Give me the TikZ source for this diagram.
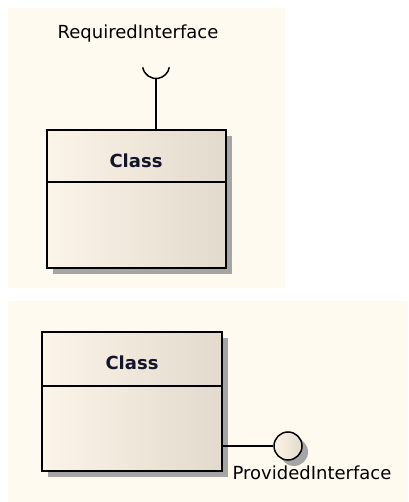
\documentclass[tikz,border=0pt]{standalone}
\usepackage{fontspec}
\setmainfont{DejaVu Sans}
\usetikzlibrary{shadows,positioning}
\definecolor{panelcol}{RGB}{255,250,240}
\definecolor{classleft}{RGB}{251,244,232}
\definecolor{classright}{RGB}{226,218,204}
\definecolor{shadowcol}{RGB}{165,165,165}
\definecolor{namecol}{RGB}{20,20,45}
\tikzset{
  panel/.style={fill=panelcol, draw=none},
  classbox/.style={draw=black, line width=1.5pt, left color=classleft, right color=classright,
    drop shadow={shadow xshift=6pt, shadow yshift=-6pt, fill=shadowcol, opacity=1}},
  classname/.style={font=\fontsize{18}{21}\selectfont\bfseries, text=namecol},
  iflabel/.style={font=\fontsize{18}{21}\selectfont, text=black},
  wire/.style={line width=1.5pt}
}
\begin{document}
\begin{tikzpicture}[x=1pt,y=1pt]
\useasboundingbox (0,0) rectangle (408,502);
\fill[panel] (8,214) rectangle (285,494);
\fill[panel] (8,0) rectangle (408,201);
% required interface
\node[classbox, minimum width=179pt, minimum height=138pt] (cls1) at (136.5,303) {};
\node[classname] (cls1name) at (136,341) {Class};
\draw[wire] ([yshift=-53pt]cls1.north west) -- ([yshift=-53pt]cls1.north east);
\coordinate (req) at (156,424);
\draw[wire] (cls1.north -| req) -- (req);
\draw[wire] (req) ++(0,13) ++(190:13.5) arc (190:350:13.5);
\node[iflabel] (reqlbl) at (138,468) {RequiredInterface};
% provided interface
\node[classbox, minimum width=180pt, minimum height=139pt] (cls2) at (132,100.5) {};
\node[classname] (cls2name) at (132,139) {Class};
\draw[wire] ([yshift=-55pt]cls2.north west) -- ([yshift=-55pt]cls2.north east);
\node[classbox, circle, inner sep=0pt, minimum size=28pt,
  drop shadow={shadow xshift=3pt, shadow yshift=-3pt, fill=shadowcol, opacity=1}] (prov) at (288,56) {};
\draw[wire] (cls2.east |- prov) -- (prov);
\node[iflabel] (provlbl) at (312,29) {ProvidedInterface};
\end{tikzpicture}
\end{document}
